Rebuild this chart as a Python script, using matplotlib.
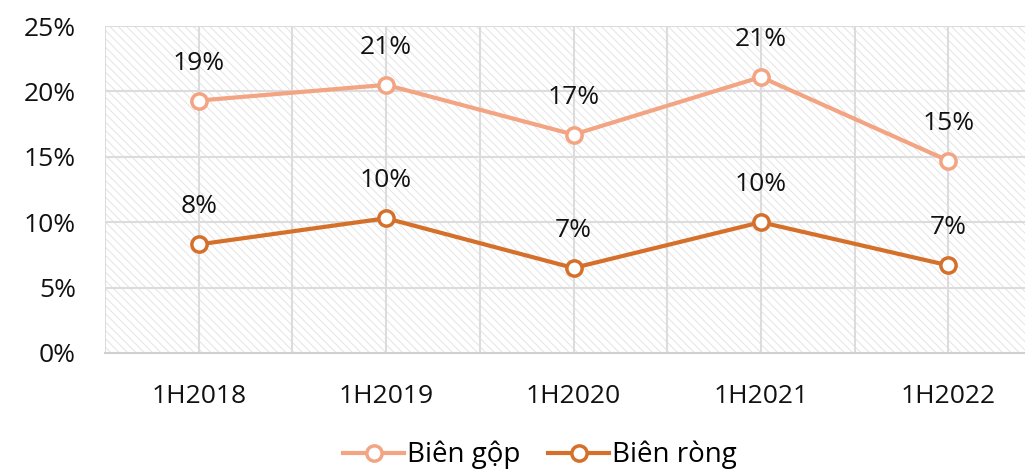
import matplotlib.pyplot as plt
import matplotlib.patches as mpatches
from matplotlib.ticker import PercentFormatter
import numpy as np

# --- dados ---
periodos = ['1H2018', '1H2019', '1H2020', '1H2021', '1H2022']
bien_gop = [19.3, 20.5, 16.7, 21.1, 14.7]
bien_rong = [8.3, 10.3, 6.5, 10.0, 6.7]
nhan_gop = ['19%', '21%', '17%', '21%', '15%']
nhan_rong = ['8%', '10%', '7%', '10%', '7%']

COR_GOP = '#F3A483'
COR_RONG = '#D5702B'
COR_GRADE = '#DCDCDC'

plt.rcParams['font.family'] = ['Open Sans', 'DejaVu Sans']
plt.rcParams['hatch.linewidth'] = 0.6

fig = plt.figure(figsize=(10.25, 4.70), dpi=100)
# area do grafico passa um pouco da borda direita, como no original
ax = fig.add_axes([105 / 1025, 1 - 353 / 470, 937 / 1025, (353 - 26) / 470])

# fundo tracejado
fundo = mpatches.Rectangle((0, 0), 1, 1, transform=ax.transAxes, facecolor='white',
                           edgecolor='#E0E0E0', hatch='\\\\\\\\', lw=0, zorder=0)
ax.add_patch(fundo)

x = np.arange(len(periodos))

# grade: horizontais a cada 5%, verticais a cada meia categoria
for yv in range(5, 26, 5):
    ax.axhline(yv, color=COR_GRADE, lw=1.5, zorder=1)
for xv in np.arange(-0.5, 4.6, 0.5):
    ax.axvline(xv, color=COR_GRADE, lw=1.5, zorder=1)

ax.plot(x, bien_gop, color=COR_GOP, lw=3, marker='o', markersize=11,
        markerfacecolor='white', markeredgecolor=COR_GOP, markeredgewidth=2.5,
        label='Biên gộp', zorder=3)
ax.plot(x, bien_rong, color=COR_RONG, lw=3, marker='o', markersize=11,
        markerfacecolor='white', markeredgecolor=COR_RONG, markeredgewidth=2.5,
        label='Biên ròng', zorder=3)

for xi, v, t in zip(x, bien_gop, nhan_gop):
    ax.annotate(t, (xi, v), xytext=(0, 27), textcoords='offset points',
                ha='center', va='center', fontsize=19, color='#111111')
for xi, v, t in zip(x, bien_rong, nhan_rong):
    ax.annotate(t, (xi, v), xytext=(0, 27), textcoords='offset points',
                ha='center', va='center', fontsize=19, color='#111111')

ax.set_xlim(-0.5, 4.5)
ax.set_ylim(0, 25)
ax.set_yticks(np.arange(0, 26, 5))
ax.yaxis.set_major_formatter(PercentFormatter(decimals=0))
ax.set_xticks(x)
ax.set_xticklabels(periodos)

for s in ['top', 'right', 'left']:
    ax.spines[s].set_visible(False)
ax.spines['bottom'].set_color('#D0D0D0')
ax.spines['bottom'].set_linewidth(1.5)
ax.spines['bottom'].set_zorder(2)

ax.tick_params(axis='y', length=0, pad=21, labelsize=19, labelcolor='#111111')
ax.tick_params(axis='x', length=0, pad=22, labelsize=19, labelcolor='#111111')

fig.legend(loc='center', bbox_to_anchor=(540 / 1025, 1 - 455 / 470), ncol=2,
           frameon=False, fontsize=20, handlelength=2.2, handletextpad=0.1,
           columnspacing=1.0)

plt.savefig('out.png', dpi=100)
